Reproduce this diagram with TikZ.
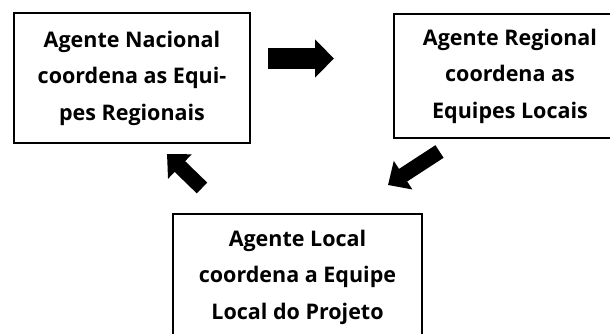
\documentclass[tikz,border=0pt]{standalone}
\usepackage{fontspec}
\setmainfont{Open Sans}
\usetikzlibrary{arrows.meta,positioning}

\tikzset{
  agentbox/.style={draw, line width=1.3pt, align=center, inner sep=0pt,
    font=\fontsize{21.5}{36.5}\selectfont\bfseries},
  bigarrow/.style={line width=21pt, -{Triangle[length=19pt,width=37pt]}},
  slantarrow/.style={line width=15pt, -{Triangle[length=18pt,width=33pt]}}
}

\begin{document}
\begin{tikzpicture}[x=1pt, y=-1pt]
  \useasboundingbox (0,0) rectangle (610,334);
  \clip (0,0) rectangle (610,334);
  \node (nac) [agentbox, minimum width=236pt, minimum height=130pt] at (132,78)
    {Agente Nacional\\coordena as Equi-\\pes Regionais};
  \node (reg) [agentbox, minimum width=232pt, minimum height=124pt,
    right of=nac, node distance=378pt, yshift=2pt]
    {Agente Regional\\coordena as\\Equipes Locais};
  \node (loc) [agentbox, minimum width=249pt, minimum height=126pt] at (297.5,277)
    {Agente Local\\coordena a Equipe\\Local do Projeto};
  % arrow ends
  \coordinate (a1) at (268,58.5);
  \coordinate (a2) at (334,58.5);
  \coordinate (b1) at (439.5,151.5);
  \coordinate (b2) at (388,185);
  \coordinate (c1) at (202,188);
  \coordinate (c2) at (167,154);
  \draw[bigarrow] (a1) -- (a2);
  \draw[slantarrow] (b1) -- (b2);
  \draw[slantarrow] (c1) -- (c2);
\end{tikzpicture}
\end{document}
